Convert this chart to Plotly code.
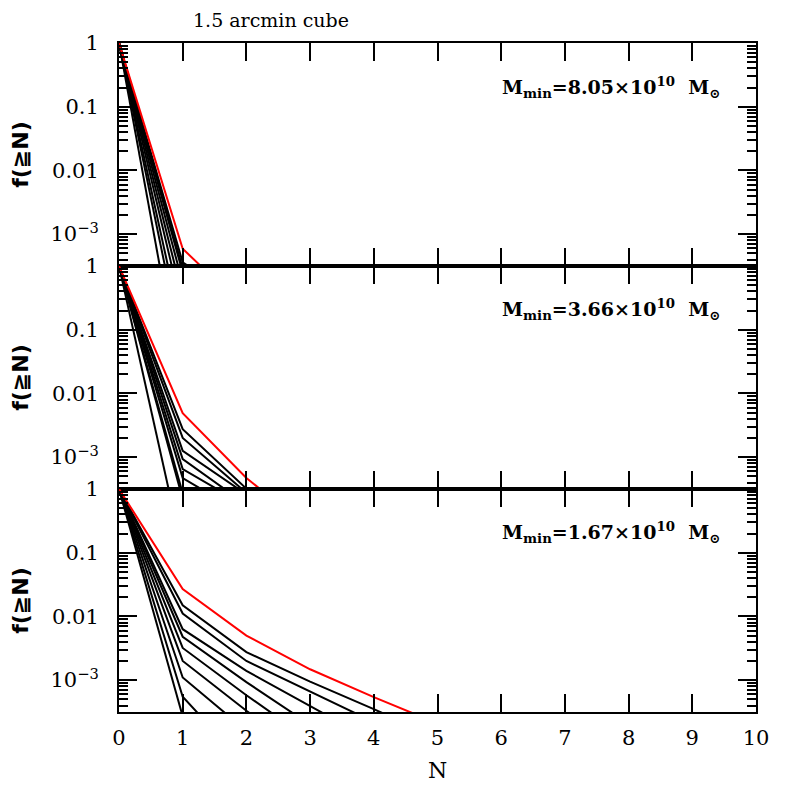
import plotly.graph_objects as go

# ---------------- data ----------------
N = [0, 1, 2, 3, 4, 5]
yticks = [1, 0.1, 0.01, 0.001]
yticktext = ["1", "0.1", "0.01", "10<sup>\u22123</sup>"]
xticks = [0, 1, 2, 3, 4, 5, 6, 7, 8, 9, 10]

panel_labels = [
    "M<sub>min</sub>=8.05\u00d710<sup>10</sup>&nbsp;&nbsp;M<sub>\u2299</sub>",
    "M<sub>min</sub>=3.66\u00d710<sup>10</sup>&nbsp;&nbsp;M<sub>\u2299</sub>",
    "M<sub>min</sub>=1.67\u00d710<sup>10</sup>&nbsp;&nbsp;M<sub>\u2299</sub>",
]

# top panel (Mmin = 8.05e10)
top_red = [1, 5.9e-4, 6.5e-5]
top_black = [
    [1, 3.6e-4, 8e-5],
    [1, 2.9e-4],
    [1, 2.5e-4],
    [1, 1.7e-4],
    [1, 1.05e-4],
    [1, 6.0e-5],
    [1, 2.8e-5],
    [1, 1.4e-5],
    [1, 3.4e-6],
]

# middle panel (Mmin = 3.66e10)
mid_red = [1, 4.9e-3, 4.7e-4, 7.4e-5]
mid_black = [
    [1, 2.75e-3, 3.2e-4, 3.2e-5],
    [1, 2.0e-3, 2.75e-4, 3.7e-5],
    [1, 1.26e-3, 2.6e-4, 5e-5],
    [1, 9.3e-4, 1.8e-4],
    [1, 6.5e-4, 1.7e-4],
    [1, 4.7e-4, 1.2e-4],
    [1, 2.7e-4],
    [1, 2.2e-4],
    [1, 3.2e-5],
]

# bottom panel (Mmin = 1.67e10)
bot_red = [1, 0.0268, 5.0e-3, 1.48e-3, 5.4e-4, 2.1e-4]
bot_black = [
    [1, 0.015, 2.75e-3, 9.5e-4, 3.5e-4, 1.26e-4],
    [1, 0.0111, 2.0e-3, 6.6e-4, 2.2e-4],
    [1, 6.3e-3, 1.4e-3, 4.0e-4, 1.1e-4],
    [1, 4.8e-3, 9.3e-4, 2.0e-4],
    [1, 3.2e-3, 5.8e-4, 1.15e-4],
    [1, 2.0e-3, 3.3e-4, 6.3e-5],
    [1, 1.1e-3, 1.6e-4],
    [1, 5.5e-4, 4.5e-5],
    [1, 2.7e-4],
]

panels = [(top_black, top_red), (mid_black, mid_red), (bot_black, bot_red)]

# ---------------- figure ----------------
fig = go.Figure()
axis_names = [("x", "y"), ("x2", "y2"), ("x3", "y3")]
for (blacks, red), (xa, ya) in zip(panels, axis_names):
    for ys in blacks:
        fig.add_trace(go.Scatter(x=N[:len(ys)], y=ys, mode="lines",
                                 line=dict(color="black", width=2),
                                 xaxis=xa, yaxis=ya, showlegend=False))
    fig.add_trace(go.Scatter(x=N[:len(red)], y=red, mode="lines",
                             line=dict(color="#ff0000", width=2),
                             xaxis=xa, yaxis=ya, showlegend=False))

minor_vals = []
for dec in [1e-4, 1e-3, 1e-2, 1e-1]:
    for m in range(2, 10):
        minor_vals.append(round(m * dec, 6))

tick_font = dict(family="DejaVu Serif", size=21, color="black")

def xaxis_cfg(show_labels, anchor):
    return dict(range=[0, 10], tickvals=xticks, ticks="inside", ticklen=18,
                tickwidth=1.5, tickcolor="black", mirror="allticks",
                showline=True, linecolor="black", linewidth=2,
                showgrid=False, zeroline=False, showticklabels=show_labels,
                tickfont=tick_font, anchor=anchor, ticklabelstandoff=6)

def yaxis_cfg(domain, anchor):
    return dict(type="log", range=[-3.5, 0], domain=domain,
                tickvals=yticks, ticktext=yticktext, ticks="inside",
                ticklen=18, tickwidth=1.5, tickcolor="black",
                minor=dict(tickvals=minor_vals, ticks="inside", ticklen=9,
                           tickwidth=1.5, tickcolor="black", showgrid=False),
                mirror="allticks", showline=True, linecolor="black",
                linewidth=2, showgrid=False, zeroline=False,
                tickfont=tick_font, anchor=anchor, ticklabelstandoff=14)

# page body has an 8px margin, so the figure is 8px smaller than the window
fig.update_layout(
    width=789, height=789,
    margin=dict(l=111, r=41, t=35, b=85),
    paper_bgcolor="white", plot_bgcolor="white",
    xaxis=xaxis_cfg(False, "y"),
    xaxis2=xaxis_cfg(False, "y2"),
    xaxis3=xaxis_cfg(True, "y3"),
    yaxis=yaxis_cfg([2/3, 1], "x"),
    yaxis2=yaxis_cfg([1/3, 2/3], "x2"),
    yaxis3=yaxis_cfg([0, 1/3], "x3"),
)

annotations = []
annotations.append(dict(text="1.5 arcmin cube", x=0.2386, y=1.035, xref="paper",
                        yref="paper", showarrow=False, xanchor="center",
                        yanchor="middle",
                        font=dict(family="DejaVu Serif", size=19, color="black")))
label_y = [0.934, 0.601, 0.2676]
panel_centers = [5/6, 0.5, 1/6]
for lab, ly, pc in zip(panel_labels, label_y, panel_centers):
    annotations.append(dict(text="<b>" + lab + "</b>", x=0.9466, y=ly, xref="paper",
                            yref="paper", showarrow=False, xanchor="right",
                            yanchor="middle",
                            font=dict(family="DejaVu Serif", size=19, color="black")))
    annotations.append(dict(text="<b>f(\u2267N)</b>", x=-0.155, y=pc, xref="paper",
                            yref="paper", showarrow=False, textangle=-90,
                            xanchor="center", yanchor="middle",
                            font=dict(family="DejaVu Sans", size=22, color="black")))
annotations.append(dict(text="N", x=0.5, y=-0.087, xref="paper", yref="paper",
                        showarrow=False, xanchor="center", yanchor="middle",
                        font=dict(family="DejaVu Serif", size=22, color="black")))
fig.update_layout(annotations=annotations)

fig.write_html("out.html")
